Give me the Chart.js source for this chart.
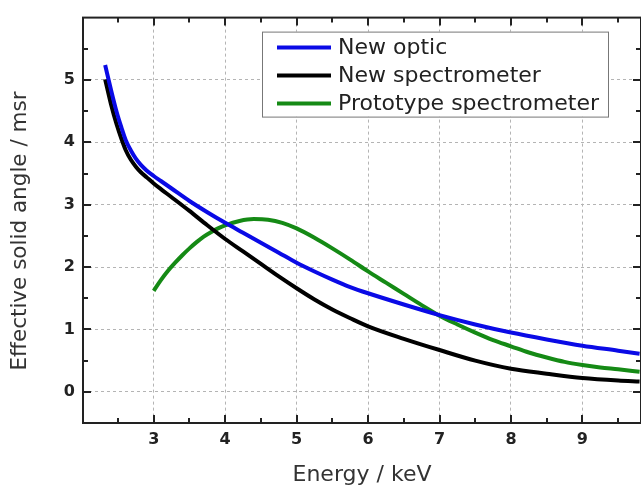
<!DOCTYPE html>
<html>
<head>
<meta charset="utf-8">
<script src="https://cdn.jsdelivr.net/npm/chart.js@4"></script>
<style>
  html, body { margin: 0; padding: 0; background: #fff; }
  #wrap { width: 641px; height: 485px; }
</style>
</head>
<body>
<div id="wrap"><canvas id="myChart" width="641" height="485"></canvas></div>
<script>
// values
const opticEnergy = [2.32, 2.4, 2.48, 2.55, 2.61, 2.68, 2.75, 2.82, 2.9, 3.0, 3.1, 3.25, 3.5, 3.75, 4.0, 4.25, 4.5, 4.75, 5.0, 5.25, 5.5, 5.75, 6.0, 6.5, 7.0, 7.5, 8.0, 8.5, 9.0, 9.5, 9.8];
const opticAngle = [5.24, 4.85, 4.49, 4.23, 4.03, 3.87, 3.74, 3.64, 3.55, 3.46, 3.38, 3.26, 3.06, 2.88, 2.71, 2.55, 2.39, 2.23, 2.07, 1.93, 1.80, 1.68, 1.58, 1.40, 1.23, 1.08, 0.95, 0.84, 0.74, 0.66, 0.61];

const specEnergy = [2.32, 2.4, 2.48, 2.55, 2.61, 2.68, 2.75, 2.82, 2.9, 3.0, 3.1, 3.25, 3.5, 3.75, 4.0, 4.25, 4.5, 4.75, 5.0, 5.25, 5.5, 5.75, 6.0, 6.5, 7.0, 7.5, 8.0, 8.5, 9.0, 9.5, 9.8];
const specAngle = [5.01, 4.62, 4.29, 4.05, 3.87, 3.72, 3.61, 3.52, 3.44, 3.34, 3.25, 3.12, 2.90, 2.67, 2.45, 2.25, 2.05, 1.85, 1.66, 1.48, 1.32, 1.18, 1.05, 0.85, 0.67, 0.50, 0.37, 0.29, 0.22, 0.18, 0.165];

const protoEnergy = [3.0, 3.1, 3.2, 3.3, 3.4, 3.5, 3.6, 3.7, 3.8, 3.9, 4.0, 4.2, 4.4, 4.6, 4.8, 5.0, 5.25, 5.5, 5.75, 6.0, 6.25, 6.5, 6.75, 7.0, 7.25, 7.5, 7.75, 8.0, 8.25, 8.5, 8.75, 9.0, 9.25, 9.5, 9.8];
const protoAngle = [1.62, 1.79, 1.94, 2.07, 2.19, 2.30, 2.40, 2.49, 2.56, 2.62, 2.67, 2.74, 2.77, 2.76, 2.71, 2.62, 2.47, 2.30, 2.12, 1.93, 1.75, 1.57, 1.39, 1.22, 1.08, 0.95, 0.83, 0.73, 0.63, 0.55, 0.48, 0.43, 0.39, 0.36, 0.32];

const seriesNames = ['New optic', 'New spectrometer', 'Prototype spectrometer'];
const seriesColors = ['#0a0ae6', '#000000', '#158a15'];

const xMajor = [3, 4, 5, 6, 7, 8, 9];
const xMinor = [2.5, 3.5, 4.5, 5.5, 6.5, 7.5, 8.5, 9.5];
const yMajor = [0, 1, 2, 3, 4, 5];
const yMinor = [0.5, 1.5, 2.5, 3.5, 4.5, 5.5];

function toPoints(xs, ys) {
    return xs.map((x, i) => ({x: x, y: ys[i]}));
}

// frame with inward ticks on all four sides
const framePlugin = {
    id: 'frame',
    afterDatasetsDraw(chart) {
        const ctx = chart.ctx;
        const a = chart.chartArea;
        const xs = chart.scales.x, ys = chart.scales.y;
        ctx.save();
        ctx.strokeStyle = '#222';
        ctx.lineWidth = 2;
        ctx.strokeRect(a.left, a.top, a.right - a.left, a.bottom - a.top);
        const tick = (vals, len) => {
            vals.forEach(v => {
                const px = Math.round(xs.getPixelForValue(v));
                ctx.beginPath();
                ctx.moveTo(px, a.bottom); ctx.lineTo(px, a.bottom - len);
                ctx.moveTo(px, a.top); ctx.lineTo(px, a.top + len);
                ctx.stroke();
            });
        };
        const ytick = (vals, len) => {
            vals.forEach(v => {
                const py = Math.round(ys.getPixelForValue(v));
                ctx.beginPath();
                ctx.moveTo(a.left, py); ctx.lineTo(a.left + len, py);
                ctx.moveTo(a.right, py); ctx.lineTo(a.right - len, py);
                ctx.stroke();
            });
        };
        tick(xMajor, 8); tick(xMinor, 5);
        ytick(yMajor, 8); ytick(yMinor, 5);
        ctx.restore();
    }
};

// legend box inside the plot, top right, and the y title
const legendPlugin = {
    id: 'boxLegend',
    afterDraw(chart) {
        const ctx = chart.ctx;
        const a = chart.chartArea;
        const left = a.left + 179, top = a.top + 14, w = 346, h = 85;
        ctx.save();
        ctx.fillStyle = '#fff';
        ctx.fillRect(left, top, w, h);
        ctx.strokeStyle = '#777';
        ctx.lineWidth = 1;
        ctx.strokeRect(left + 0.5, top + 0.5, w, h);
        ctx.font = '22px "DejaVu Sans"';
        ctx.textBaseline = 'middle';
        chart.data.datasets.forEach((ds, i) => {
            const y = top + 16 + i * 28;
            ctx.strokeStyle = ds.borderColor;
            ctx.lineWidth = 4;
            ctx.beginPath();
            ctx.moveTo(left + 15, y); ctx.lineTo(left + 69, y);
            ctx.stroke();
            ctx.fillStyle = '#222';
            ctx.fillText(ds.label, left + 76, y + 1);
        });

        // y axis title
        ctx.translate(20, 231);
        ctx.rotate(-Math.PI / 2);
        ctx.font = '21.5px "DejaVu Sans"';
        ctx.fillStyle = '#333';
        ctx.textAlign = 'center';
        ctx.textBaseline = 'middle';
        ctx.fillText('Effective solid angle / msr', 0, 0);
        ctx.restore();
    }
};

const ctx = document.getElementById('myChart').getContext('2d');
Chart.defaults.font.family = '"DejaVu Sans", sans-serif';
Chart.defaults.color = '#222';

const chart = new Chart(ctx, {
    type: 'line',
    data: {
        datasets: [
            {label: seriesNames[0], data: toPoints(opticEnergy, opticAngle), borderColor: seriesColors[0]},
            {label: seriesNames[1], data: toPoints(specEnergy, specAngle), borderColor: seriesColors[1]},
            {label: seriesNames[2], data: toPoints(protoEnergy, protoAngle), borderColor: seriesColors[2]}
        ].map(d => Object.assign(d, {
            borderWidth: 4,
            pointRadius: 0,
            fill: false,
            cubicInterpolationMode: 'monotone'
        }))
    },
    options: {
        responsive: false,
        animation: false,
        events: [],
        layout: {padding: {top: 13, right: -2, left: 0, bottom: 0}},
        plugins: {
            legend: {display: false},
            tooltip: {enabled: false}
        },
        scales: {
            x: {
                type: 'linear',
                min: 2.01,
                max: 9.82,
                afterBuildTicks: s => { s.ticks = xMajor.map(v => ({value: v})); },
                afterFit: s => { s.height = 62; },
                border: {display: false, dash: [3, 3]},
                grid: {color: '#b4b4b4', lineWidth: 1, drawTicks: false},
                ticks: {padding: 7, maxRotation: 0, font: {size: 16, weight: 'bold'}, color: '#222'},
                title: {display: true, text: 'Energy / keV', font: {size: 22, lineHeight: 0.9}, color: '#333', padding: {top: 0, bottom: 0}}
            },
            y: {
                type: 'linear',
                min: -0.5,
                max: 6.0,
                afterBuildTicks: s => { s.ticks = yMajor.map(v => ({value: v})); },
                afterFit: s => { s.width = 83; },
                border: {display: false, dash: [3, 3]},
                grid: {color: '#b4b4b4', lineWidth: 1, drawTicks: false},
                ticks: {padding: 8, font: {size: 16, weight: 'bold'}, color: '#222'},
                title: {display: false}
            }
        }
    },
    plugins: [framePlugin, legendPlugin]
});
</script>
</body>
</html>
